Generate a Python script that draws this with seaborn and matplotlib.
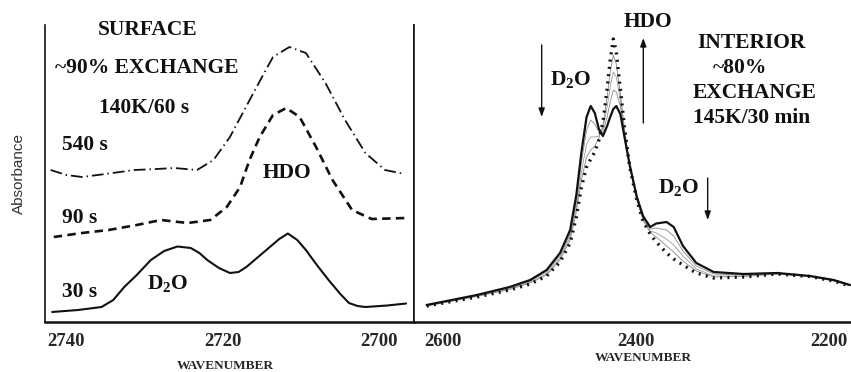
import matplotlib
matplotlib.use("Agg")
import matplotlib.pyplot as plt
import seaborn as sns
import numpy as np
import pandas as pd

# ---------------- data: SURFACE panel ----------------
wn_30s = [2741.8, 2738.5, 2735.5, 2734.0, 2732.6, 2731.0, 2729.2, 2727.5, 2725.8, 2724.1,
          2723.0, 2722.0, 2720.5, 2719.1, 2718.0, 2717.0, 2715.5, 2714.0, 2712.8, 2711.7,
          2710.5, 2709.4, 2708.0, 2706.5, 2705.0, 2703.9, 2702.8, 2701.8, 2699.0, 2696.6]
abs_30s = [0.10, 0.12, 0.15, 0.22, 0.35, 0.47, 0.62, 0.71, 0.755, 0.74,
           0.69, 0.62, 0.54, 0.49, 0.50, 0.55, 0.65, 0.75, 0.83, 0.885,
           0.82, 0.72, 0.57, 0.42, 0.28, 0.19, 0.16, 0.15, 0.165, 0.185]

wn_90s = [2741.6, 2738.0, 2734.6, 2731.0, 2727.9, 2724.5, 2721.6, 2719.5, 2717.8, 2716.6,
          2715.3, 2713.6, 2711.9, 2710.2, 2708.1, 2706.0, 2703.5, 2701.0, 2696.6]
abs_90s = [0.85, 0.89, 0.92, 0.97, 1.02, 0.99, 1.02, 1.15, 1.35, 1.62,
           1.85, 2.07, 2.14, 2.05, 1.75, 1.42, 1.12, 1.03, 1.04]

wn_540s = [2742.0, 2740.0, 2738.0, 2735.0, 2731.3, 2728.5, 2726.2, 2723.3, 2721.2, 2719.1,
           2717.6, 2716.1, 2714.8, 2713.6, 2711.5, 2709.4, 2706.9, 2704.4, 2701.8, 2699.3, 2696.8]
abs_540s = [1.52, 1.47, 1.45, 1.48, 1.52, 1.53, 1.54, 1.52, 1.62, 1.85,
            2.07, 2.29, 2.48, 2.65, 2.75, 2.69, 2.39, 2.02, 1.69, 1.52, 1.48]

# ---------------- data: INTERIOR panel ----------------
wn_int = [2616.6, 2564.6, 2530.6, 2509.3, 2492.3, 2478.4, 2467.9, 2461.5, 2456.2, 2450.9,
          2446.6, 2442.4, 2438.1, 2433.9, 2429.6, 2426.4, 2423.2, 2420.1, 2415.9, 2411.6,
          2406.2, 2398.8, 2392.4, 2385.0, 2378.7, 2368.0, 2360.6, 2351.0, 2337.2, 2319.2,
          2288.4, 2253.3, 2219.3, 2194.9, 2177.9]
abs_start = [0.17, 0.27, 0.35, 0.42, 0.52, 0.69, 0.92, 1.27, 1.70, 2.05, 2.16, 2.09, 1.93, 1.86,
             1.96, 2.05, 2.13, 2.16, 2.08, 1.85, 1.57, 1.25, 1.06, 0.95, 0.985, 1.00, 0.95, 0.76,
             0.59, 0.50, 0.48, 0.49, 0.46, 0.42, 0.37]
abs_mid1 = [0.17, 0.265, 0.34, 0.41, 0.50, 0.66, 0.88, 1.20, 1.60, 1.92, 2.02, 1.98, 1.90, 1.90,
            2.05, 2.20, 2.32, 2.30, 2.16, 1.88, 1.57, 1.24, 1.05, 0.93, 0.94, 0.92, 0.86, 0.71,
            0.56, 0.48, 0.47, 0.485, 0.46, 0.42, 0.37]
abs_mid2 = [0.165, 0.26, 0.33, 0.40, 0.48, 0.64, 0.85, 1.15, 1.50, 1.78, 1.85, 1.85, 1.86, 1.94,
            2.15, 2.35, 2.50, 2.45, 2.22, 1.91, 1.56, 1.23, 1.03, 0.91, 0.89, 0.83, 0.77, 0.66,
            0.53, 0.46, 0.46, 0.48, 0.455, 0.415, 0.365]
abs_mid3 = [0.16, 0.255, 0.325, 0.39, 0.47, 0.62, 0.82, 1.10, 1.42, 1.65, 1.72, 1.76, 1.84, 1.97,
            2.25, 2.50, 2.67, 2.58, 2.28, 1.93, 1.55, 1.22, 1.02, 0.895, 0.85, 0.76, 0.70, 0.61,
            0.51, 0.45, 0.455, 0.48, 0.455, 0.41, 0.36]
abs_end = [0.16, 0.25, 0.32, 0.38, 0.46, 0.60, 0.79, 1.05, 1.35, 1.55, 1.63, 1.70, 1.82, 2.00,
           2.33, 2.62, 2.83, 2.70, 2.33, 1.95, 1.55, 1.22, 1.01, 0.88, 0.80, 0.69, 0.63, 0.57,
           0.49, 0.44, 0.45, 0.48, 0.455, 0.41, 0.36]

left_ticks = [2740, 2720, 2700]
right_ticks = [2600, 2400, 2200]

# ---------------- style ----------------
sns.set_style("white")
plt.rcParams['font.family'] = ['Liberation Serif', 'DejaVu Serif']
plt.rcParams['mathtext.fontset'] = 'custom'
plt.rcParams['mathtext.rm'] = 'Liberation Serif:bold'
plt.rcParams['mathtext.it'] = 'Liberation Serif:bold'

fig = plt.figure(figsize=(8.51, 3.72), dpi=100)
axL = fig.add_axes([45/851, 1-322/372, (414-45)/851, (322-25)/372])
axR = fig.add_axes([414/851, 1-322/372, (851-414)/851, (322-25)/372])

K = "#111111"
sns.lineplot(x=wn_30s, y=abs_30s, ax=axL, color=K, lw=1.5, sort=False)
sns.lineplot(x=wn_90s, y=abs_90s, ax=axL, color=K, lw=1.9, sort=False,
             linestyle=(0, (3.2, 2.0)))
sns.lineplot(x=wn_540s, y=abs_540s, ax=axL, color=K, lw=1.3, sort=False,
             linestyle=(0, (6.5, 2.2, 0.8, 2.2)))

for vals, c in [(abs_mid1, "#8a8a8a"), (abs_mid2, "#9a9a9a"), (abs_mid3, "#8a8a8a")]:
    sns.lineplot(x=wn_int, y=vals, ax=axR, color=c, lw=0.6, sort=False)
sns.lineplot(x=wn_int, y=abs_start, ax=axR, color=K, lw=1.6, sort=False)
sns.lineplot(x=wn_int, y=abs_end, ax=axR, color=K, lw=2.4, sort=False,
             linestyle=(0, (0.6, 1.6)))

for ax in (axL, axR):
    ax.set_ylim(0, 2.97)
    ax.set_yticks([])
    ax.set_ylabel("")
    for s in ax.spines.values():
        s.set_color(K)
        s.set_linewidth(1.2)
    ax.spines['top'].set_visible(False)
    ax.spines['bottom'].set_linewidth(1.8)
    ax.tick_params(axis='x', length=0, pad=8, labelsize=13.5)

axL.set_xlim(2742.72, 2695.59)
axR.set_xlim(2629.7, 2176.9)
axR.spines['right'].set_visible(False)
axL.set_xticks(left_ticks)
axR.set_xticks(right_ticks)
for ax in (axL, axR):
    for t in ax.get_xticklabels():
        t.set_fontweight('bold')

axL.set_xlabel("WAVENUMBER", fontsize=9.5, fontweight='bold', va='center')
axR.set_xlabel("WAVENUMBER", fontsize=9.5, fontweight='bold', va='center')
axL.xaxis.set_label_coords(0.488, -(366-322)/297)
axR.xaxis.set_label_coords(0.524, -(358-322)/297)

axL.set_ylabel("Absorbance", family=['Liberation Sans'], fontsize=11, color="#333333", labelpad=14)

FS = 15.5
tkw = dict(fontweight='bold', color=K, ha='center', va='center', fontsize=FS)
axL.text(2729.55, 2.92, "SURFACE", clip_on=False, **tkw)
axL.text(2729.67, 2.54, "~90% EXCHANGE", **tkw)
axL.text(2730.05, 2.14, "140K/60 s", **tkw)
lkw = dict(fontweight='bold', color=K, ha='left', va='center', fontsize=FS)
axL.text(2740.6, 1.77, "540 s", **lkw)
axL.text(2740.6, 1.04, "90 s", **lkw)
axL.text(2740.6, 0.30, "30 s", **lkw)
axL.text(2711.76, 1.49, "HDO", **tkw)
axL.text(2727.0, 0.39, "D$_2$O", **tkw)

axR.text(2387.3, 3.0, "HDO", clip_on=False, **tkw)
axR.text(2279.5, 2.79, "INTERIOR", **tkw)
axR.text(2291.9, 2.54, "~80%", **tkw)
axR.text(2276.4, 2.29, "EXCHANGE", **tkw)
axR.text(2279.5, 2.04, "145K/30 min", **tkw)
axR.text(2467.0, 2.42, "D$_2$O", **tkw)
axR.text(2355.1, 1.34, "D$_2$O", **tkw)

akw = dict(arrowstyle='-|>,head_length=0.5,head_width=0.18', color=K, lw=1.0, shrinkA=0, shrinkB=0)
axR.annotate("", xy=(2497.4, 2.05), xytext=(2497.4, 2.77), arrowprops=akw)
axR.annotate("", xy=(2392.1, 2.84), xytext=(2392.1, 1.99), arrowprops=akw)
axR.annotate("", xy=(2325.4, 1.02), xytext=(2325.4, 1.44), arrowprops=akw)

fig.savefig("out.png", dpi=100)
